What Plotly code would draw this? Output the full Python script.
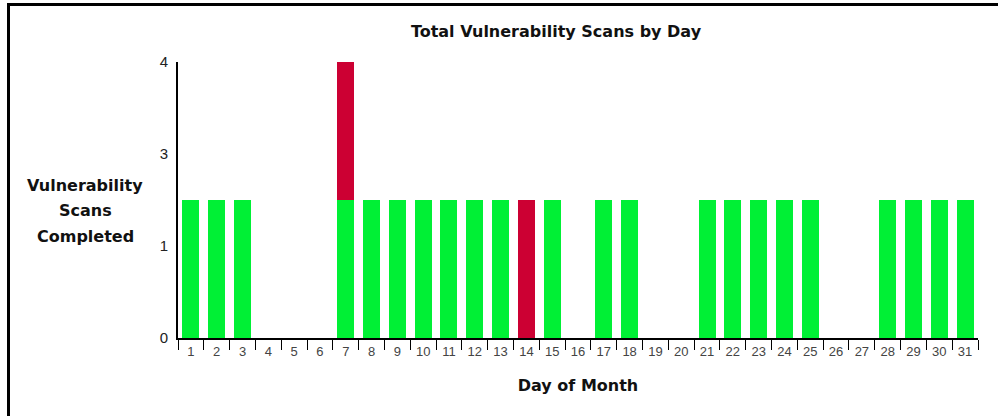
import plotly.graph_objects as go

days = [str(d) for d in range(1, 32)]
green_vals = [2, 2, 2, 0, 0, 0, 2, 2, 2, 2, 2, 2, 2, 0, 2, 0, 2, 2, 0, 0,
              2, 2, 2, 2, 2, 0, 0, 2, 2, 2, 2]
red_vals = [0, 0, 0, 0, 0, 0, 2, 0, 0, 0, 0, 0, 0, 2, 0, 0, 0, 0, 0, 0,
            0, 0, 0, 0, 0, 0, 0, 0, 0, 0, 0]
y_tick_vals = [0, 4 / 3, 8 / 3, 4]
y_tick_text = ["0", "1", "3", "4"]
y_title_lines = ["Vulnerability", "Scans", "Completed"]

W, H = 998, 416
L, R, T, B = 178, 20, 62, 78
pw, ph = W - L - R, H - T - B
BOLD = "DejaVu Sans, Liberation Sans, Arial, sans-serif"

fig = go.Figure()
fig.add_trace(go.Bar(x=days, y=green_vals, marker=dict(color="#00F035", line=dict(width=0)),
                     width=0.66, offset=-0.33, name="green"))
fig.add_trace(go.Bar(x=days, y=red_vals, marker=dict(color="#CC0033", line=dict(width=0)),
                     width=0.66, offset=-0.33, name="red"))

fig.update_layout(
    barmode="stack",
    width=W, height=H,
    margin=dict(l=L, r=R, t=T, b=B),
    paper_bgcolor="white", plot_bgcolor="white",
    showlegend=False,
    font=dict(family="Liberation Sans, Arial, sans-serif", color="#000"),
    title=dict(text="<b>Total Vulnerability Scans by Day</b>", x=556 / W, xanchor="center",
               xref="container", y=1 - 31 / H, yanchor="middle", yref="container",
               font=dict(size=16, color="#111", family=BOLD)),
    xaxis=dict(type="category", range=[-0.5, 30.5], showline=True, linecolor="#000", linewidth=2,
               ticks="outside", tickson="boundaries", ticklen=10, tickcolor="#000", tickwidth=1,
               tickfont=dict(size=13, color="#444"), showgrid=False, zeroline=False,
               title=dict(text="<b>Day of Month</b>", font=dict(size=16, color="#111", family=BOLD),
                          standoff=22)),
    yaxis=dict(range=[0, 4], tickvals=y_tick_vals, ticktext=y_tick_text, showline=True,
               linecolor="#000", linewidth=2, ticks="", showgrid=False, zeroline=False,
               tickfont=dict(size=15, color="#222"), ticklabelstandoff=5),
)

for i, line in enumerate(y_title_lines):
    fig.add_annotation(text="<b>%s</b>" % line, xref="paper", yref="paper",
                       x=(85 - L) / pw, y=(H - B - (185 + 25.5 * i)) / ph,
                       xanchor="center", yanchor="middle", showarrow=False,
                       font=dict(size=16, color="#111", family=BOLD))

fig.add_shape(type="rect", xref="paper", yref="paper",
              x0=(8.5 - L) / pw, x1=(W + 20 - L) / pw,
              y0=-(B + 20) / ph, y1=(H - B - 4.5) / ph,
              line=dict(color="#000", width=3), fillcolor="rgba(0,0,0,0)", layer="below")

fig.write_html("out.html", config={"displayModeBar": False},
               post_script="document.body.style.margin='0';")
